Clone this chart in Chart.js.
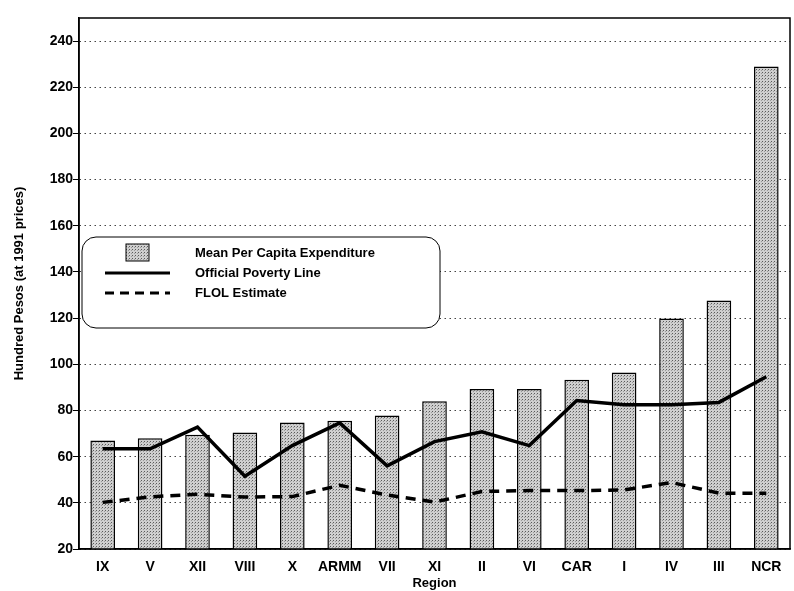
<!DOCTYPE html>
<html>
<head>
<meta charset="utf-8">
<script src="https://cdn.jsdelivr.net/npm/chart.js@4.4.0/dist/chart.umd.min.js"></script>
<style>
  html, body { margin: 0; padding: 0; background: #fff; }
  #wrap { width: 794px; height: 591px; }
</style>
</head>
<body>
<div id="wrap"><canvas id="chart-1" width="794" height="591"></canvas></div>
<script>
const regions = ['IX', 'V', 'XII', 'VIII', 'X', 'ARMM', 'VII', 'XI', 'II', 'VI', 'CAR', 'I', 'IV', 'III', 'NCR'];
const meanExpenditure = [67, 68, 69.5, 70.5, 74.8, 75.5, 77.8, 84, 89.3, 89.3, 93.3, 96.4, 119.8, 127.6, 229];
const povertyLine = [63.4, 63.4, 72.8, 51.5, 64.8, 74.6, 56, 66.5, 70.8, 64.8, 84.3, 82.5, 82.5, 83.5, 94.6];
const flolEstimate = [40.2, 42.6, 43.7, 42.5, 42.7, 47.6, 43.4, 40.3, 44.9, 45.3, 45.3, 45.6, 48.8, 44.2, 44.2];
const yTicks = [20, 40, 60, 80, 100, 120, 140, 160, 180, 200, 220, 240];

const FONT = '"Liberation Sans", Arial, sans-serif';

// stipple fill like the printed bars
function makeStipple() {
  const c = document.createElement('canvas');
  c.width = 3; c.height = 3;
  const g = c.getContext('2d');
  g.fillStyle = '#cfcfcf';
  g.fillRect(0, 0, 3, 3);
  g.fillStyle = '#5a5a5a';
  g.fillRect(0, 0, 1, 1);
  g.fillStyle = '#9a9a9a';
  g.fillRect(2, 1, 1, 1);
  return document.getElementById('chart-1').getContext('2d').createPattern(c, 'repeat');
}
const stipple = makeStipple();

// box round the plot and the rounded legend
const framePlugin = {
  id: 'frame',
  afterDraw(chart) {
    const ctx = chart.ctx;
    const a = chart.chartArea;
    ctx.save();
    ctx.strokeStyle = '#000';
    ctx.lineWidth = 1.5;
    ctx.strokeRect(a.left, a.top, a.right - a.left, a.bottom - a.top);

    // legend box
    const bx = 82, by = 237, bw = 358, bh = 91, r = 14;
    ctx.beginPath();
    ctx.roundRect(bx, by, bw, bh, r);
    ctx.fillStyle = '#fff';
    ctx.fill();
    ctx.lineWidth = 1;
    ctx.stroke();

    const ds = chart.data.datasets;
    ctx.font = 'bold 13px ' + FONT;
    ctx.textBaseline = 'middle';
    // bar swatch
    ctx.fillStyle = stipple;
    ctx.fillRect(126, 244, 23, 17);
    ctx.strokeRect(126, 244, 23, 17);
    ctx.fillStyle = '#000';
    ctx.fillText(ds[0].label, 195, 253);
    // solid line
    ctx.lineWidth = 3;
    ctx.beginPath();
    ctx.moveTo(105, 273); ctx.lineTo(170, 273);
    ctx.stroke();
    ctx.fillText(ds[1].label, 195, 273);
    // dashed line
    ctx.setLineDash([9, 6]);
    ctx.beginPath();
    ctx.moveTo(105, 293); ctx.lineTo(170, 293);
    ctx.stroke();
    ctx.setLineDash([]);
    ctx.fillText(ds[2].label, 195, 293);
    ctx.restore();
  }
};

const chart1 = new Chart(document.getElementById('chart-1'), {
  type: 'bar',
  data: {
    labels: regions,
    datasets: [{
      label: 'Mean Per Capita Expenditure',
      data: meanExpenditure,
      backgroundColor: stipple,
      borderColor: '#000',
      borderWidth: 1.5,
      barPercentage: 0.52,
      categoryPercentage: 1,
      order: 2
    }, {
      type: 'line',
      label: 'Official Poverty Line',
      data: povertyLine,
      borderColor: '#000',
      borderWidth: 3.5,
      pointRadius: 0,
      tension: 0,
      order: 1
    }, {
      type: 'line',
      label: 'FLOL Estimate',
      data: flolEstimate,
      borderColor: '#000',
      borderWidth: 3.5,
      borderDash: [10, 7],
      pointRadius: 0,
      tension: 0,
      order: 1
    }]
  },
  options: {
    responsive: false,
    animation: false,
    layout: { padding: { top: 18, right: 4, left: 12, bottom: 0 } },
    plugins: {
      legend: { display: false },
      tooltip: { enabled: false }
    },
    scales: {
      x: {
        grid: { display: false },
        border: { color: '#000', width: 1.5 },
        ticks: { color: '#000', font: { family: FONT, size: 14, weight: 'bold' }, padding: 2, maxRotation: 0, minRotation: 0, autoSkip: false },
        title: { display: true, text: 'Region', color: '#000', font: { family: FONT, size: 13, weight: 'bold' }, padding: { top: 0, bottom: 0 } },
        afterFit(scale) { scale.height = 42; }
      },
      y: {
        min: 20,
        max: 250,
        afterBuildTicks(scale) { scale.ticks = yTicks.map(v => ({ value: v })); },
        grid: { color: '#444', lineWidth: 1, tickLength: 6, tickColor: '#000', drawTicks: true },
        border: { color: '#000', width: 1.5, dash: [1.5, 3.5] },
        ticks: { color: '#000', font: { family: FONT, size: 14, weight: 'bold' }, padding: 0 },
        title: { display: true, text: 'Hundred Pesos (at 1991 prices)', color: '#000', font: { family: FONT, size: 13, weight: 'bold' }, padding: 0 },
        afterFit(scale) { scale.width = 67; }
      }
    }
  },
  plugins: [framePlugin]
});
</script>
</body>
</html>
